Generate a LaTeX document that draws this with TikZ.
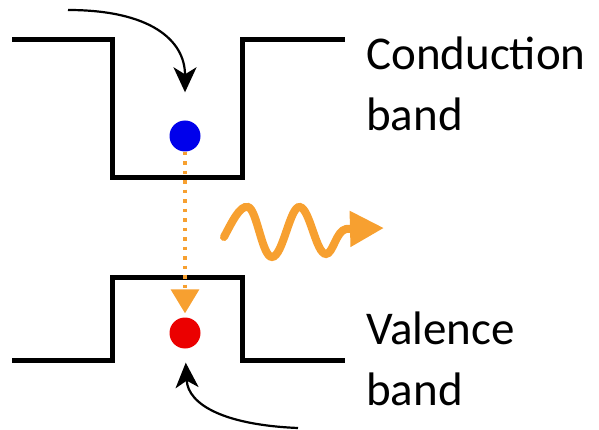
\documentclass[tikz,border=0pt]{standalone}
\usepackage{fontspec}
\setmainfont{Carlito}
\usetikzlibrary{arrows.meta}
\definecolor{photon}{RGB}{247,160,48}
\definecolor{electron}{RGB}{0,0,235}
\definecolor{hole}{RGB}{235,0,0}
\begin{document}
\begin{tikzpicture}[x=1pt,y=-1pt,
  band/.style={line width=5pt,line join=miter},
  carrier/.style={circle,inner sep=0pt,minimum size=31pt},
  bandlabel/.style={anchor=north west,align=left,inner sep=0pt,font=\fontsize{47}{61}\selectfont},
  hint/.style={line width=2.2pt,-{Stealth[length=25pt,width=23pt,inset=7pt]}}]
\useasboundingbox (0,0) rectangle (599,430);
% conduction band
\draw[band] (12,40) -- (112,40) -- (112,178) -- (242,178) -- (242,40) -- (345,40);
% valence band
\draw[band] (12,360) -- (112,360) -- (112,277) -- (242,277) -- (242,360) -- (345,360);
\node[carrier,fill=electron] (e) at (185,136) {};
\node[carrier,fill=hole] (h) at (185,333) {};
\node[bandlabel] (cb) at (366,37) {Conduction\\band};
\node[bandlabel] (vb) at (366,312) {Valence\\band};
% recombination
\draw[photon,line width=3.5pt,dash pattern=on 3.5pt off 6pt,
  -{Triangle[length=24pt,width=28pt]},shorten >=4pt] (e.south) -- (h.north);
\draw[photon,line width=8pt,line cap=round,-{Triangle[length=34pt,width=34pt]}]
  (224,237) .. controls (232,222) and (240,205) .. (248,207)
  .. controls (257,209) and (262,257) .. (272,257)
  .. controls (283,257) and (290,205) .. (300,207)
  .. controls (310,209) and (316,254) .. (326,254)
  .. controls (333,254) and (336,231) .. (346,229) -- (384,228);
% carriers coming in
\coordinate (ein) at (68,10);
\coordinate (hin) at (298,428);
\draw[hint,shorten >=28pt] (ein) .. controls (150,10) and (185,40) .. (e.north);
\draw[hint,shorten >=14pt] (hin) .. controls (225,425) and (188,405) .. (h.south);
\end{tikzpicture}
\end{document}
